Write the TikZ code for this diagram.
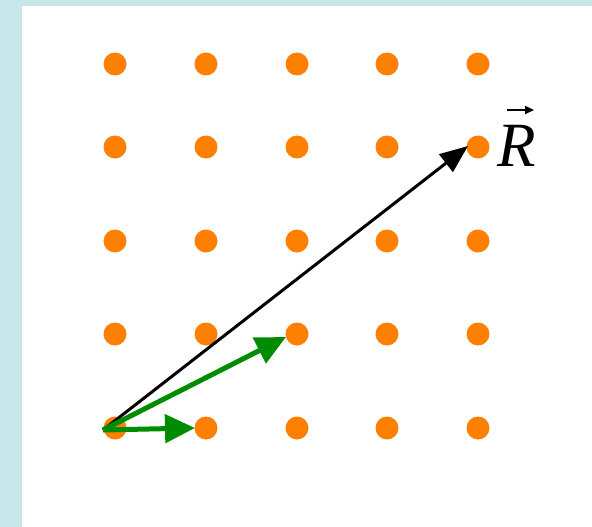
\documentclass[tikz,border=0pt]{standalone}
\usepackage{fontspec}
\newfontfamily\rfont{Liberation Serif}[UprightFont={* Italic}]
\usetikzlibrary{arrows.meta}
\definecolor{bgblue}{HTML}{C8E6EA}
\definecolor{dotorange}{HTML}{FF7F00}
\definecolor{vecgreen}{HTML}{008C00}
\tikzset{
  dot/.style={circle,fill=dotorange,inner sep=0pt,minimum size=23pt},
  greenvec/.style={draw=vecgreen,line width=5pt,-{Triangle[length=30pt,width=28pt]}},
  blackvec/.style={draw=black,line width=3pt,-{Triangle[length=28pt,width=22pt]}},
  overarrow/.style={draw=black,line width=2pt,-{Triangle[length=9pt,width=8pt]}},
}
\begin{document}
\begin{tikzpicture}[x=1pt,y=-1pt]
\fill[bgblue] (0,0) rectangle (592,527);
\fill[white] (22,6) rectangle (592,527);
\useasboundingbox (0,0) rectangle (592,527);
\foreach \c [count=\i] in {115,206,297,387,478}{
  \foreach \r [count=\j] in {64,147,241,334,428}{
    \node[dot] (d\i\j) at (\c,\r) {};
  }
}
\coordinate (o) at (103,430);
\coordinate (t1) at (195,428);
\coordinate (t2) at (286,337);
\coordinate (t3) at (468,146);
\draw[blackvec] (o) -- (t3);
\draw[greenvec] (o) -- (t2);
\draw[greenvec] (o) -- (t1);
\node[font=\fontsize{63}{70}\rfont,inner sep=0pt,anchor=base] (R) at (517,166) {R};
\coordinate (a1) at (507,110);
\coordinate (a2) at (534,110);
\draw[overarrow] (a1) -- (a2);
\end{tikzpicture}
\end{document}
